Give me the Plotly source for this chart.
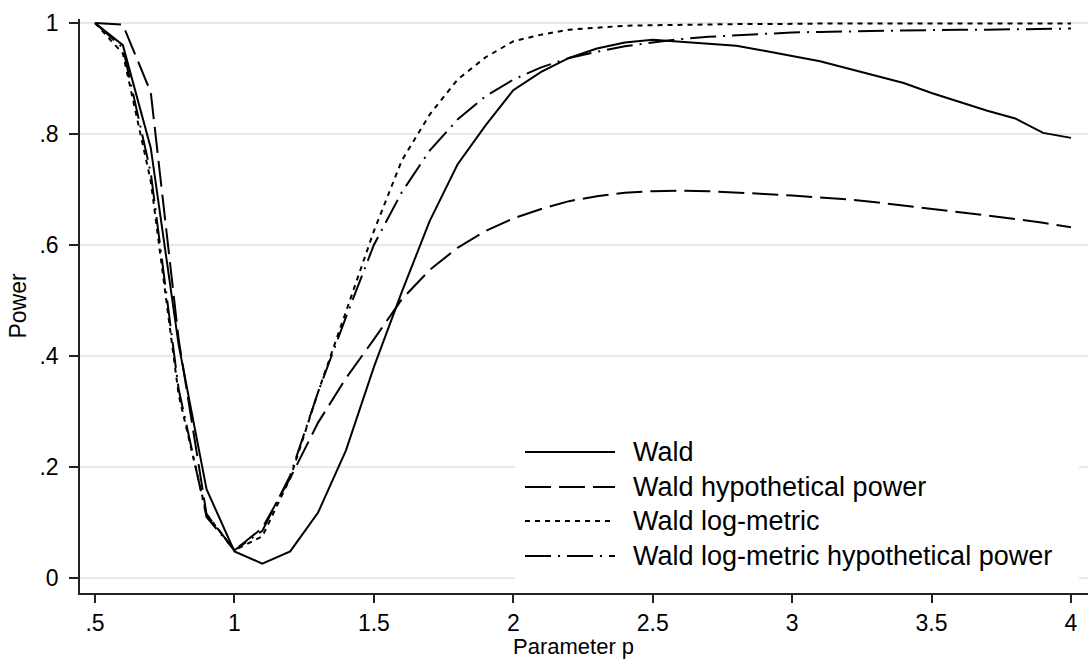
import plotly.graph_objects as go

# ---- data ----
p = [0.5, 0.6, 0.7, 0.8, 0.9, 1.0, 1.1, 1.2, 1.3, 1.4, 1.5, 1.6, 1.7, 1.8, 1.9, 2.0,
     2.1, 2.2, 2.3, 2.4, 2.5, 2.6, 2.7, 2.8, 2.9, 3.0, 3.1, 3.2, 3.3, 3.4, 3.5, 3.6,
     3.7, 3.8, 3.9, 4.0]

wald = [1.0, 0.96, 0.775, 0.42, 0.16, 0.048,
        0.026, 0.048, 0.118, 0.23, 0.38, 0.515, 0.643, 0.745, 0.815, 0.879,
        0.912, 0.937, 0.954, 0.965, 0.970, 0.966, 0.962, 0.959, 0.950, 0.941,
        0.931, 0.918, 0.905, 0.892, 0.874, 0.858, 0.842, 0.828, 0.802, 0.793]

wald_hyp = [1.0, 0.997, 0.875, 0.43, 0.115, 0.05,
            0.09, 0.18, 0.28, 0.36, 0.43, 0.502, 0.555, 0.595, 0.625, 0.648,
            0.665, 0.679, 0.688, 0.694, 0.697, 0.698, 0.697, 0.695, 0.692, 0.689,
            0.686, 0.682, 0.677, 0.671, 0.666, 0.660, 0.654, 0.647, 0.640, 0.632]

wald_log = [1.0, 0.945, 0.715, 0.33, 0.115, 0.05,
            0.075, 0.18, 0.335, 0.48, 0.625, 0.752, 0.835, 0.898, 0.938, 0.967,
            0.979, 0.988, 0.992, 0.995, 0.996, 0.997, 0.998, 0.998, 0.998, 0.999,
            0.999, 0.999, 0.999, 0.999, 0.999, 0.999, 0.999, 0.999, 0.999, 0.999]

wald_log_hyp = [1.0, 0.955, 0.73, 0.34, 0.11, 0.05,
                0.085, 0.185, 0.335, 0.47, 0.60, 0.695, 0.77, 0.826, 0.868, 0.898,
                0.92, 0.937, 0.948, 0.958, 0.965, 0.971, 0.975, 0.978, 0.981, 0.983,
                0.984, 0.985, 0.986, 0.987, 0.987, 0.988, 0.988, 0.989, 0.989, 0.99]

series_names = ["Wald", "Wald hypothetical power", "Wald log-metric",
                "Wald log-metric hypothetical power"]
series_values = [wald, wald_hyp, wald_log, wald_log_hyp]
series_dash = ["solid", "26px,8px", "5px,5px", "26px,7px,2px,7px"]

x_tickvals = [0.5, 1, 1.5, 2, 2.5, 3, 3.5, 4]
x_ticktext = [".5", "1", "1.5", "2", "2.5", "3", "3.5", "4"]
y_tickvals = [0, 0.2, 0.4, 0.6, 0.8, 1]
y_ticktext = ["0", ".2", ".4", ".6", ".8", "1"]

FONT = "Liberation Sans, Arial, sans-serif"

fig = go.Figure()
for name, vals, dash in zip(series_names, series_values, series_dash):
    fig.add_trace(go.Scatter(x=p, y=vals, mode="lines", name=name,
                             line=dict(color="black", width=2, dash=dash),
                             showlegend=False))

# ---- custom legend (white box, long swatches) ----
W, H = 1088, 660
ml, mr, mt, mb = 80, 0, 19, 67
pw, ph = W - ml - mr, H - mt - mb


def px2x(px):
    return (px - ml) / pw


def py2y(py):
    return (H - mb - py) / ph


shapes = [dict(type="rect", xref="paper", yref="paper",
               x0=px2x(515), x1=px2x(1079), y0=py2y(590), y1=py2y(430),
               fillcolor="white", line=dict(width=0), layer="above")]
annotations = []
rows = [452, 487, 521, 556]
for name, dash, ry in zip(series_names, series_dash, rows):
    shapes.append(dict(type="line", xref="paper", yref="paper",
                       x0=px2x(525), x1=px2x(615), y0=py2y(ry), y1=py2y(ry),
                       line=dict(color="black", width=2, dash=dash), layer="above"))
    annotations.append(dict(xref="paper", yref="paper", x=px2x(631), y=py2y(ry),
                            text=name, showarrow=False, xanchor="left",
                            yanchor="middle",
                            font=dict(family=FONT, size=27, color="black")))

# x-axis title (placed as in the reference)
annotations.append(dict(xref="paper", yref="paper", x=px2x(573), y=py2y(660),
                        text="Parameter p", showarrow=False, xanchor="center",
                        yanchor="bottom", borderpad=0,
                        font=dict(family=FONT, size=22, color="black")))

fig.update_layout(
    width=W, height=H,
    margin=dict(l=ml, r=mr, t=mt, b=mb, pad=0),
    paper_bgcolor="white", plot_bgcolor="white",
    font=dict(family=FONT, size=23, color="black"),
    shapes=shapes, annotations=annotations,
    showlegend=False,
    xaxis=dict(range=[0.4462, 4.061], tickvals=x_tickvals, ticktext=x_ticktext,
               showgrid=False, zeroline=False, showline=True, linecolor="#222",
               linewidth=1.5, ticks="outside", ticklen=8, tickwidth=1.5,
               tickcolor="#222", ticklabelstandoff=1,
               tickfont=dict(family=FONT, size=23, color="black"),
               automargin=False),
    yaxis=dict(range=[-0.027, 1.0072], tickvals=y_tickvals, ticktext=y_ticktext,
               showgrid=True, gridcolor="#e8e8e8", gridwidth=2, zeroline=False,
               showline=True, linecolor="#222", linewidth=1.5, ticks="outside",
               ticklen=9, tickwidth=1.5, tickcolor="#222", ticklabelstandoff=6,
               tickfont=dict(family=FONT, size=23, color="black"),
               title=dict(text="Power", standoff=6,
                          font=dict(family=FONT, size=23, color="black")),
               automargin=False),
)

fig.write_html("out.html")
